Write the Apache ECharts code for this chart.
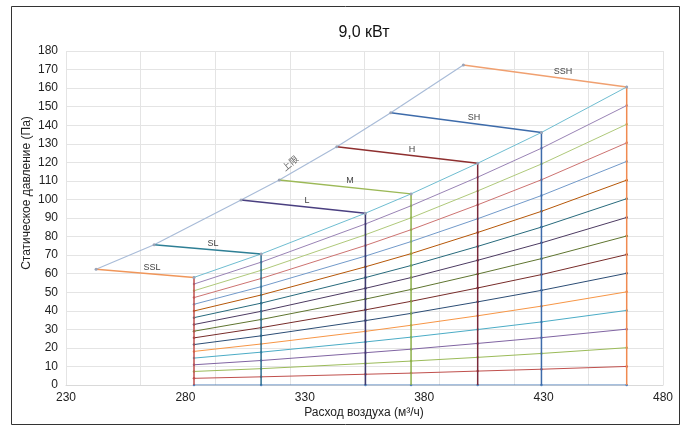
<!DOCTYPE html>
<html><head><meta charset="utf-8">
<script src="https://cdn.jsdelivr.net/npm/echarts@6/dist/echarts.min.js"></script>
<style>html,body{margin:0;padding:0;background:#fff}#c{width:688px;height:432px}</style>
</head><body><div id="c"></div>
<script>
// ---- data ----
const speedNames = ['SSL','SL','L','M','H','SH','SSH'];
const maxFlow = [283.6, 311.7, 355.4, 374.5, 402.4, 429.1, 464.8];        // м³/ч at vertical lines
const maxFlowPressure = [58.0, 70.6, 92.6, 103.0, 119.5, 136.1, 160.6];  // Па at top of verticals
const limitFlow = [242.6, 266.9, 303.3, 319.3, 343.4, 366.0, 396.4];      // left ends (upper limit)
const limitPressure = [62.4, 75.6, 99.7, 110.5, 128.4, 146.7, 172.4];
const labelFlow = [266.0, 291.6, 330.9, 348.9, 374.9, 400.9, 438.1];      // where each speed name sits
// pressure of each iso-line at each vertical (bottom to top)
const isoLines = [
  [0, 0, 0, 0, 0, 0, 0],
  [3.6, 4.4, 5.8, 6.4, 7.5, 8.5, 10.0],
  [7.3, 8.8, 11.6, 12.9, 14.9, 17.0, 20.1],
  [10.9, 13.2, 17.4, 19.3, 22.4, 25.5, 30.1],
  [14.5, 17.7, 23.2, 25.8, 29.9, 34.0, 40.2],
  [18.1, 22.1, 28.9, 32.2, 37.3, 42.5, 50.2],
  [21.8, 26.5, 34.7, 38.6, 44.8, 51.0, 60.2],
  [25.4, 30.9, 40.5, 45.1, 52.3, 59.5, 70.3],
  [29.0, 35.3, 46.3, 51.5, 59.8, 68.1, 80.3],
  [32.6, 39.7, 52.1, 57.9, 67.2, 76.6, 90.3],
  [36.3, 44.1, 57.9, 64.4, 74.7, 85.1, 100.4],
  [39.9, 48.5, 63.7, 70.8, 82.2, 93.6, 110.4],
  [43.5, 53.0, 69.5, 77.3, 89.6, 102.1, 120.5],
  [47.1, 57.4, 75.2, 83.7, 97.1, 110.6, 130.5],
  [50.8, 61.8, 81.0, 90.1, 104.6, 119.1, 140.5],
  [54.4, 66.2, 86.8, 96.6, 112.0, 127.6, 150.6],
  [58.0, 70.6, 92.6, 103.0, 119.5, 136.1, 160.6]
];
const xTicks = [230, 280, 330, 380, 430, 480];
const yTicks = [0, 10, 20, 30, 40, 50, 60, 70, 80, 90, 100, 110, 120, 130, 140, 150, 160, 170, 180];
const limitLabel = '上限';
const limitLabelAt = [323.8, 119.6];

// ---- styles ----
const isoColors = ['#4F81BD','#C0504D','#9BBB59','#8064A2','#4BACC6','#F79646','#2C4D75','#772C2A',
  '#5F7530','#4D3B62','#276A7C','#B65708','#729ACA','#CD7371','#AFC97A','#9983B5','#6FBDD1'];
const speedColors = ['#F0965A','#2E7F95','#4A3F80','#9CB957','#8E2F2F','#3D6BAA','#F0A070'];
const vertColors = ['#C0504D','#2E6F90','#3E3A70','#8DB04A','#7A2A3A','#3D6BAA','#F08A50'];
const FONT = 'Liberation Sans, Arial, sans-serif';

const series = [];
isoLines.forEach((vals, k) => {
  series.push({
    type: 'line', xAxisIndex: 0, yAxisIndex: 0,
    data: maxFlow.map((x, i) => [x, vals[i]]),
    lineStyle: {color: isoColors[k], width: 1},
    itemStyle: {color: isoColors[k]},
    symbol: 'circle', symbolSize: 2.5, showSymbol: true,
    silent: true, z: 2
  });
});
speedNames.forEach((n, i) => {
  series.push({
    type: 'line', data: [[maxFlow[i], 0], [maxFlow[i], maxFlowPressure[i]]],
    lineStyle: {color: vertColors[i], width: 1.5}, symbol: 'none', silent: true, z: 3
  });
  const t = (labelFlow[i] - limitFlow[i]) / (maxFlow[i] - limitFlow[i]);
  const ly = limitPressure[i] + t * (maxFlowPressure[i] - limitPressure[i]);
  series.push({
    type: 'line', data: [[limitFlow[i], limitPressure[i]], [maxFlow[i], maxFlowPressure[i]]],
    lineStyle: {color: speedColors[i], width: 1.5},
    itemStyle: {color: '#9AA4B8'},
    symbol: 'circle', symbolSize: 3, showSymbol: true, silent: true, z: 4,
    markPoint: {
      symbol: 'circle', symbolSize: 0, silent: true,
      label: {show: true, formatter: n, position: 'top', distance: 2, color: '#444', fontSize: 9, fontFamily: FONT},
      data: [{coord: [labelFlow[i], ly]}]
    }
  });
});
series.push({
  type: 'line', data: limitFlow.map((x, i) => [x, limitPressure[i]]),
  lineStyle: {color: '#A9BCD8', width: 1.2}, symbol: 'none', silent: true, z: 3,
  markPoint: {
    symbol: 'circle', symbolSize: 0, silent: true,
    label: {show: true, formatter: limitLabel, position: 'inside', rotate: 40, color: '#666', fontSize: 9, fontFamily: 'Noto Sans CJK SC'},
    data: [{coord: limitLabelAt}]
  }
});

const chart = echarts.init(document.getElementById('c'), null, {renderer: 'canvas'});
chart.setOption({
  animation: false,
  backgroundColor: '#fff',
  textStyle: {fontFamily: FONT},
  grid: {left: 66, right: 25, top: 51, bottom: 47, containLabel: false},
  xAxis: [{
    type: 'value', min: xTicks[0], max: xTicks[xTicks.length - 1], interval: xTicks[1] - xTicks[0],
    axisLine: {show: true, lineStyle: {color: '#D9D9D9'}}, axisTick: {show: false},
    splitLine: {show: false},
    axisLabel: {color: '#222', fontSize: 12, margin: 7, fontFamily: FONT}
  }, {
    type: 'value', min: 0, max: 8, interval: 1, position: 'top',
    axisLine: {show: false}, axisTick: {show: false}, axisLabel: {show: false},
    splitLine: {show: true, lineStyle: {color: '#E4E4E4', width: 1}}
  }],
  yAxis: [{
    type: 'value', min: yTicks[0], max: yTicks[yTicks.length - 1], interval: yTicks[1] - yTicks[0],
    axisLine: {show: false}, axisTick: {show: false},
    splitLine: {show: true, lineStyle: {color: '#E4E4E4', width: 1}},
    axisLabel: {color: '#222', fontSize: 12, margin: 8, fontFamily: FONT}
  }],
  series: series,
  graphic: [
    {type: 'rect', shape: {x: 11.5, y: 6.5, width: 668, height: 418}, style: {fill: 'none', stroke: '#333', lineWidth: 1}, silent: true, z: -1},
    {type: 'text', x: 364, y: 33, style: {text: '9,0 кВт', fill: '#111', font: '16px ' + FONT, textAlign: 'center', textVerticalAlign: 'middle'}},
    {type: 'text', x: 364, y: 413, style: {text: 'Расход воздуха (м³/ч)', fill: '#222', font: '12px ' + FONT, textAlign: 'center', textVerticalAlign: 'middle'}},
    {type: 'text', x: 27, y: 193, rotation: Math.PI / 2, style: {text: 'Статическое давление (Па)', fill: '#222', font: '12px ' + FONT, textAlign: 'center', textVerticalAlign: 'middle'}}
  ]
});
</script></body></html>
